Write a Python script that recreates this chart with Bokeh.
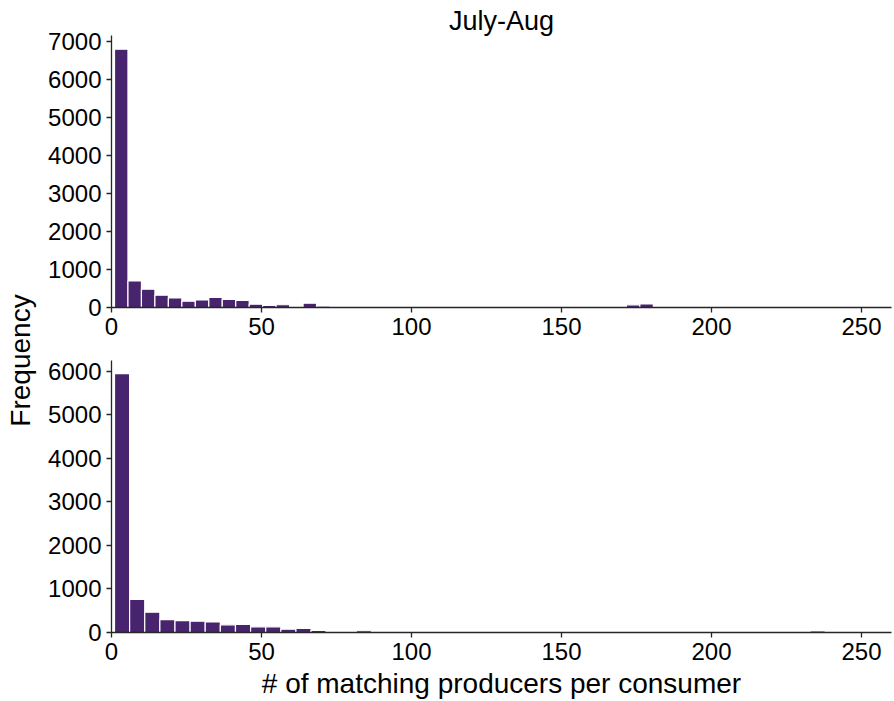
import math
from bokeh.plotting import figure
from bokeh.layouts import row, column
from bokeh.models import Label, Range1d, FixedTicker
from bokeh.embed import file_html
from bokeh.resources import INLINE

# ---- data ----
bin_start = 1.0
top_bin_width = 4.49
bottom_bin_width = 5.04

top_counts = [6800, 700, 480, 325, 250, 165, 200, 265, 215, 190,
              88, 55, 72, 32, 115, 38, 10, 0, 0, 0,
              0, 0, 0, 0, 0, 0, 0, 0, 0, 0,
              0, 5, 0, 0, 0, 0, 0, 30, 70, 95]

bottom_counts = [5950, 760, 466, 297, 274, 258, 243, 177, 185, 131,
                 131, 77, 92, 50, 25, 5, 40, 25, 25, 20,
                 0, 0, 0, 0, 0, 0, 0, 0, 0, 0,
                 0, 0, 0, 5, 0, 0, 0, 0, 0, 0,
                 0, 0, 0, 0, 5, 20, 35, 3, 0, 0]

x_ticks = [0, 50, 100, 150, 200, 250]
top_y_ticks = [0, 1000, 2000, 3000, 4000, 5000, 6000, 7000]
bottom_y_ticks = [0, 1000, 2000, 3000, 4000, 5000, 6000]

title_text = "July-Aug"
x_label = "# of matching producers per consumer"
y_label = "Frequency"

BAR = "#48246f"
FONT = "Liberation Sans"


def edges(n, width):
    left = [bin_start + i * width for i in range(n)]
    right = [bin_start + (i + 1) * width for i in range(n)]
    return left, right


def style(p, yticks):
    p.xaxis.ticker = FixedTicker(ticks=x_ticks)
    p.yaxis.ticker = FixedTicker(ticks=yticks)
    for ax in (p.xaxis, p.yaxis):
        ax.axis_line_color = "#262626"
        ax.axis_line_width = 1.3
        ax.major_tick_line_color = "#262626"
        ax.major_tick_line_width = 1.3
        ax.major_tick_out = 5
        ax.major_tick_in = 0
        ax.minor_tick_line_color = None
        ax.major_label_text_font = FONT
        ax.major_label_text_font_size = "24px"
        ax.major_label_text_color = "black"
        ax.major_label_standoff = 5
    p.xgrid.visible = False
    p.ygrid.visible = False
    p.outline_line_color = None
    p.background_fill_color = "white"
    p.border_fill_color = "white"


# ---- left label figure ----
left_fig = figure(width=40, height=701, x_range=Range1d(0, 40), y_range=Range1d(0, 701),
                  toolbar_location=None, output_backend="svg", min_border=0)
left_fig.axis.visible = False
left_fig.xgrid.visible = False
left_fig.ygrid.visible = False
left_fig.outline_line_color = None
left_fig.add_layout(Label(x=20, y=341, text=y_label, angle=math.pi / 2,
                          text_align="center", text_baseline="middle",
                          text_font=FONT, text_font_size="28px", text_color="black"))

# ---- top histogram ----
p1 = figure(width=854, height=346, x_range=Range1d(0, 260), y_range=Range1d(0, 7160),
            toolbar_location=None, output_backend="svg",
            min_border_left=71, min_border_right=3, min_border_top=35, min_border_bottom=39)
l1, r1 = edges(len(top_counts), top_bin_width)
p1.quad(left=l1, right=r1, top=top_counts, bottom=0, fill_color=BAR, line_color="white", line_width=1.2)
style(p1, top_y_ticks)
p1.title.text = title_text
p1.title.align = "center"
p1.title.text_font = FONT
p1.title.text_font_size = "27px"
p1.title.text_font_style = "normal"
p1.title.text_color = "black"
p1.title.standoff = 0

# ---- bottom histogram ----
p2 = figure(width=854, height=355, x_range=Range1d(0, 260), y_range=Range1d(0, 6250),
            toolbar_location=None, output_backend="svg",
            min_border_left=71, min_border_right=3, min_border_top=14, min_border_bottom=69)
l2, r2 = edges(len(bottom_counts), bottom_bin_width)
p2.quad(left=l2, right=r2, top=bottom_counts, bottom=0, fill_color=BAR, line_color="white", line_width=1.2)
style(p2, bottom_y_ticks)
p2.xaxis.axis_label = x_label
p2.xaxis.axis_label_text_font = FONT
p2.xaxis.axis_label_text_font_size = "28px"
p2.xaxis.axis_label_text_font_style = "normal"
p2.xaxis.axis_label_text_color = "black"
p2.xaxis.axis_label_standoff = 5

layout = row(left_fig, column(p1, p2, spacing=0), spacing=0)
open("out.html", "w").write(file_html(layout, INLINE))
